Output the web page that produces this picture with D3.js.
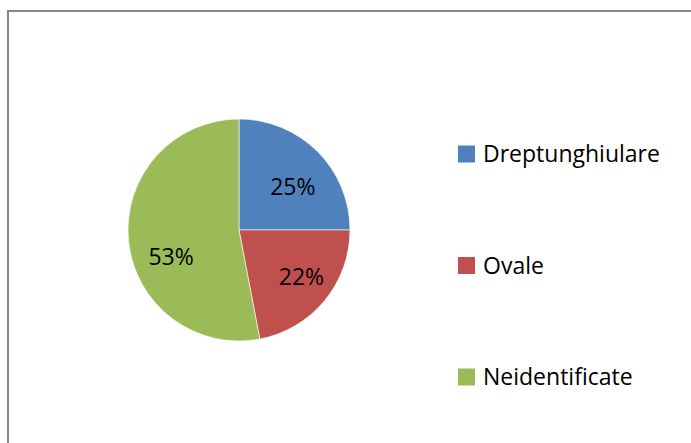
<!DOCTYPE html>
<html>
<head>
<meta charset="utf-8">
<script src="https://cdn.jsdelivr.net/npm/d3@7"></script>
<style>
    body { margin: 0; background: #fff; }
    svg { display: block; font-family: "Open Sans", sans-serif; }
</style>
</head>
<body>
<svg id="chart" width="691" height="443"></svg>
<script>
// chart data
const categories = ["Dreptunghiulare", "Ovale", "Neidentificate"];
const values = [25, 22, 53];
const colors = ["#4F81BD", "#C0504D", "#9BBB59"];

const svg = d3.select('#chart');

// outer frame, runs past the right and bottom edges
svg.append("rect")
    .attr("x", 8)
    .attr("y", 11)
    .attr("width", 720)
    .attr("height", 480)
    .attr("fill", "none")
    .attr("stroke", "#878787")
    .attr("stroke-width", 2);

const cx = 239, cy = 230, radius = 111;

const pie = d3.pie().sort(null).value(d => d);
const arc = d3.arc().innerRadius(0).outerRadius(radius);
const labelArc = d3.arc().innerRadius(radius * 0.66).outerRadius(radius * 0.66);
// small shifts like Excel's "best fit" label placement
const labelNudge = [[2, 9], [6, 0], [5, 20]];

const slices = pie(values);
const g = svg.append("g").attr("transform", "translate(" + cx + "," + cy + ")");

g.selectAll("path")
    .data(slices)
    .enter().append("path")
    .attr("d", arc)
    .attr("fill", (d, i) => colors[i])
    .attr("stroke", "#fff")
    .attr("stroke-width", 0.6);

const total = d3.sum(values);
g.selectAll("text")
    .data(slices)
    .enter().append("text")
    .attr("transform", (d, i) => {
        const c = labelArc.centroid(d);
        return "translate(" + (c[0] + labelNudge[i][0]) + "," + (c[1] + labelNudge[i][1]) + ")";
    })
    .attr("text-anchor", "middle")
    .attr("dy", "0.36em")
    .attr("font-size", 23)
    .attr("fill", "#000")
    .text(d => Math.round(d.data / total * 100) + "%");

// legend
const legendY = d3.scalePoint().domain(categories).range([154, 377]);

const legend = svg.append("g")
    .selectAll("g")
    .data(categories)
    .enter().append("g")
    .attr("transform", d => "translate(458," + legendY(d) + ")");

legend.append("rect")
    .attr("x", 0)
    .attr("y", -8.5)
    .attr("width", 17)
    .attr("height", 17)
    .attr("fill", (d, i) => colors[i]);

legend.append("text")
    .attr("x", 25)
    .attr("y", 0)
    .attr("dy", "0.36em")
    .attr("font-size", 23)
    .attr("fill", "#000")
    .text(d => d);
</script>
</body>
</html>
